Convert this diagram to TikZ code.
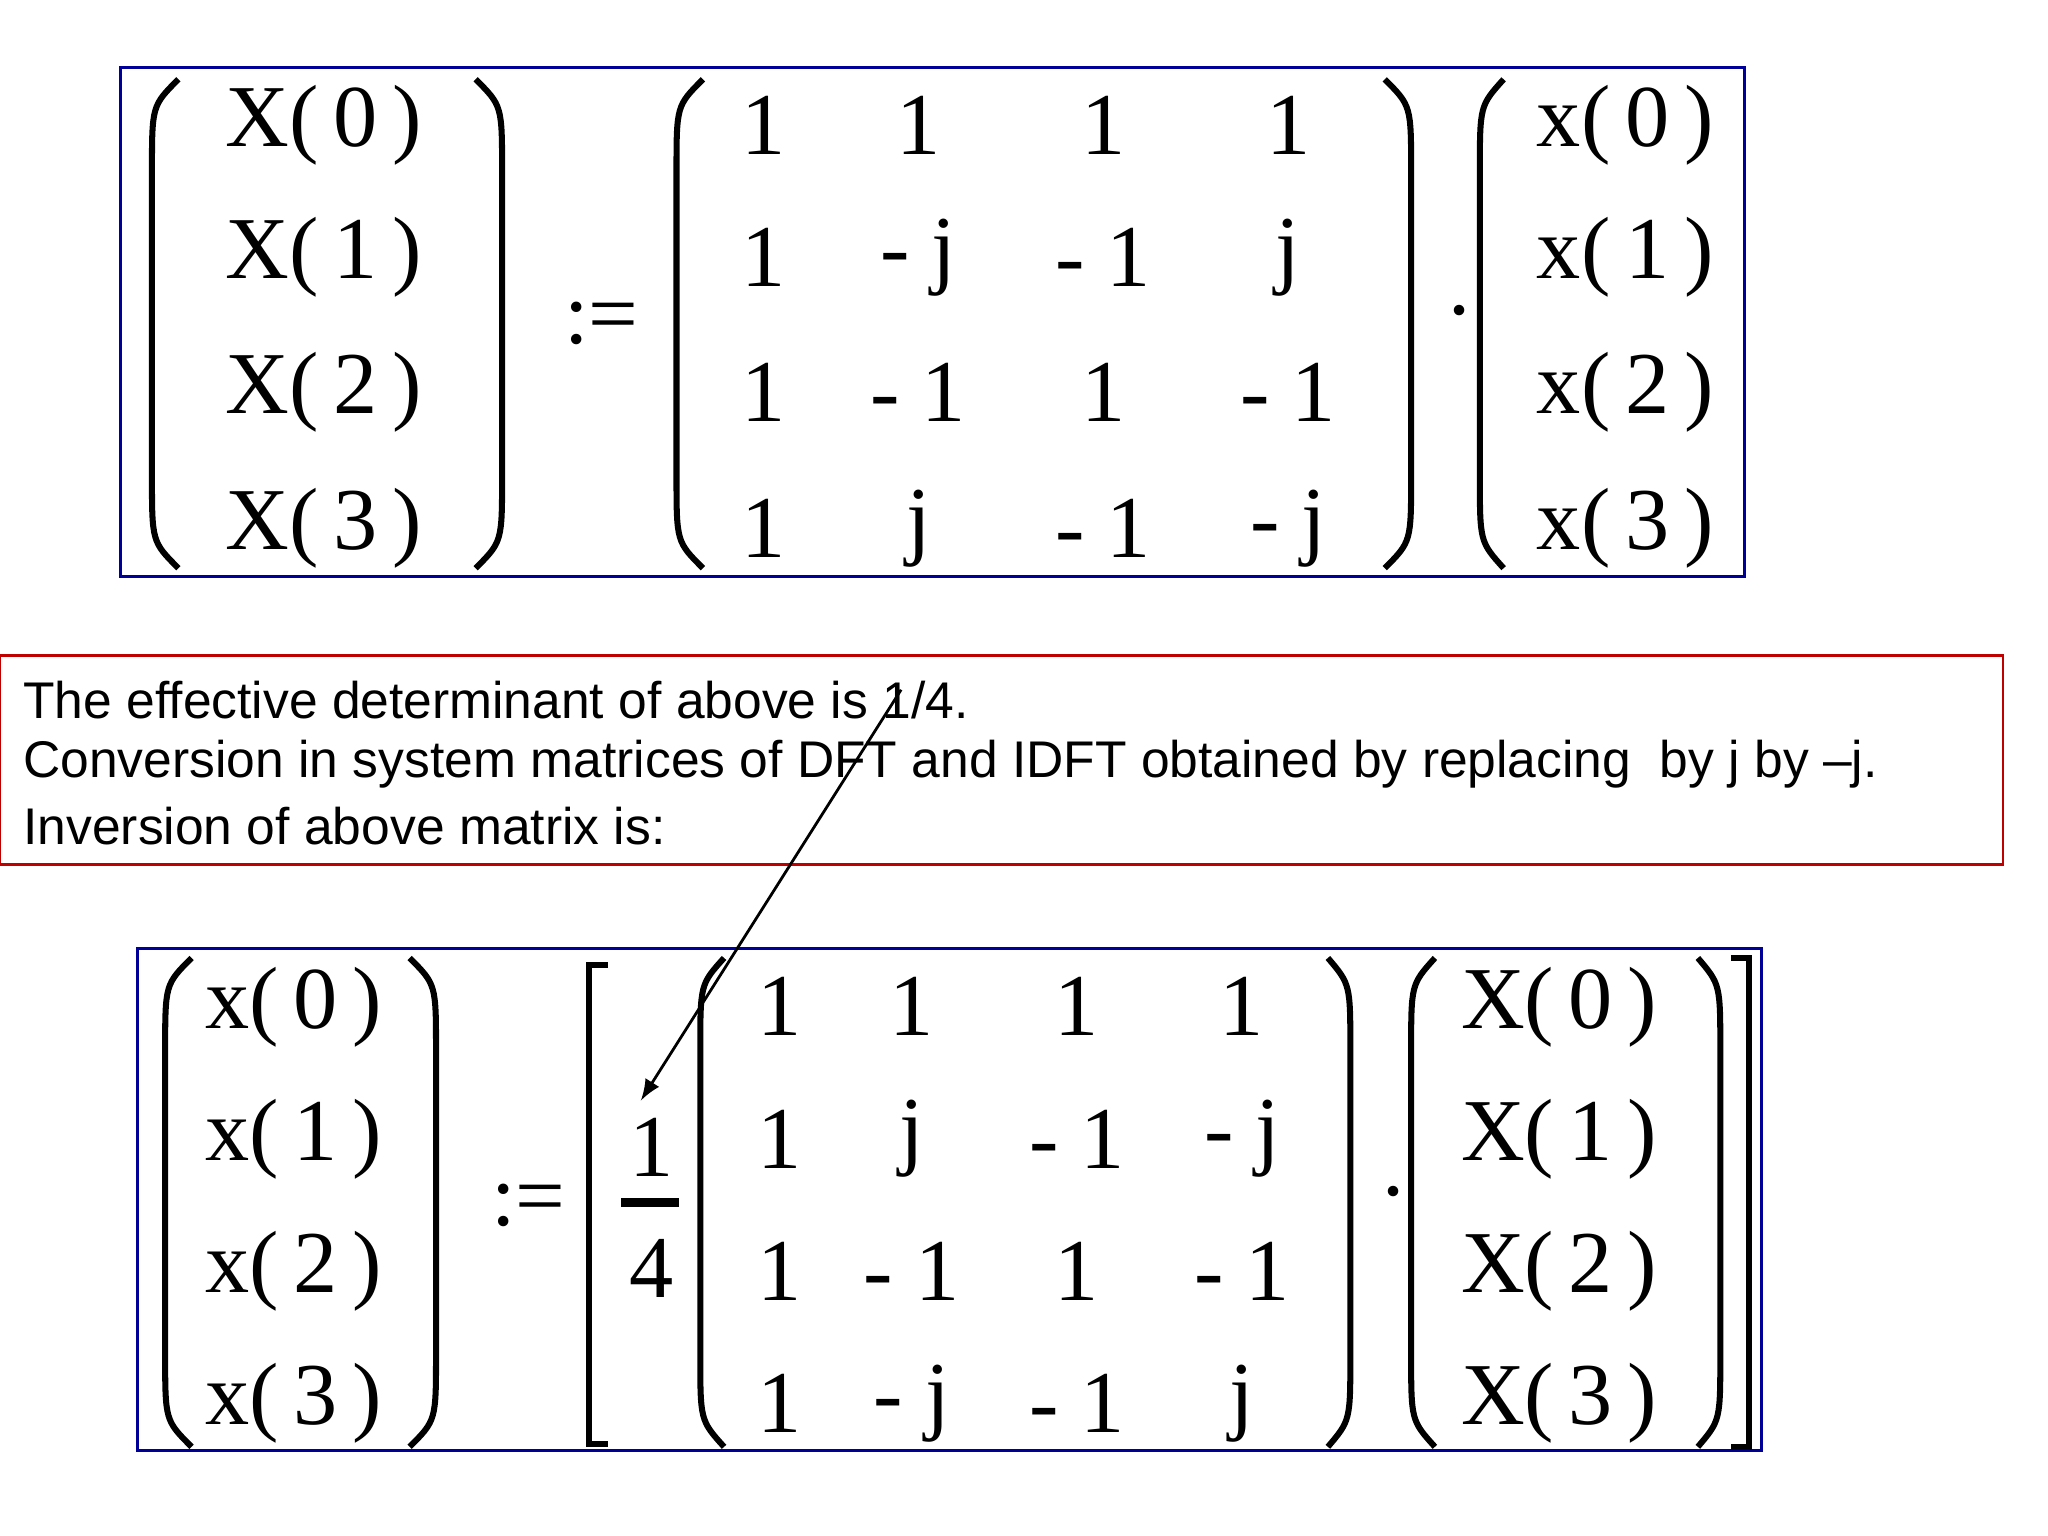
\documentclass[tikz,border=0pt]{standalone}
\usepackage{fontspec}
\setmainfont{Liberation Serif}
\newfontfamily\txtfont{Liberation Sans}
\newcommand\LPn[4]{\draw[brk] (#2,#3) .. controls (#1,{#3+20}) .. (#1,{#3+70}) -- (#1,{#4-70}) .. controls (#1,{#4-20}) .. (#2,#4);}
\newcommand\RPn[4]{\draw[brk] (#1,#3) .. controls (#2,{#3+20}) .. (#2,{#3+70}) -- (#2,{#4-70}) .. controls (#2,{#4-20}) .. (#1,#4);}
\begin{document}
\begin{tikzpicture}[x=0.01cm,y=-0.01cm,
  ent/.style={font=\fontsize{19}{19}\selectfont, inner sep=0pt, anchor=center},
  brk/.style={line width=1.3pt},
  txt/.style={font=\txtfont\fontsize{11.1}{13}\selectfont, anchor=west, inner sep=0pt}]
\useasboundingbox (0,0) rectangle (1550,1162);
% top box
\draw[blue!60!black, line width=0.6pt] (91,51) rectangle (1320,436);
\LPn{115}{135}{60}{430}\RPn{360}{380}{60}{430}
\foreach \i/\y in {0/95,1/195,2/297,3/400}{\node[ent] (X\i) at (245,\y) {X(\,\i\,)};}
\node[ent] (eq1) at (455,245) {:=};
\LPn{512}{532}{60}{430}\RPn{1048}{1068}{60}{430}
\node[ent] (a11) at (578,95) {1};\node[ent] (a12) at (695,95) {1};\node[ent] (a13) at (835,95) {1};\node[ent] (a14) at (975,95) {1};
\node[ent] (a21) at (578,195) {1};\node[ent] (a22) at (695,195) {- j};\node[ent] (a23) at (835,195) {- 1};\node[ent] (a24) at (975,195) {j};
\node[ent] (a31) at (578,297) {1};\node[ent] (a32) at (695,297) {- 1};\node[ent] (a33) at (835,297) {1};\node[ent] (a34) at (975,297) {- 1};
\node[ent] (a41) at (578,400) {1};\node[ent] (a42) at (695,400) {j};\node[ent] (a43) at (835,400) {- 1};\node[ent] (a44) at (975,400) {- j};
\node[ent] (dot1) at (1105,235) {.};
\LPn{1120}{1138}{60}{430}
\foreach \i/\y in {0/95,1/195,2/297,3/400}{\node[ent] (x\i) at (1230,\y) {x(\,\i\,)};}
% text box
\draw[red!75!black, line width=0.6pt] (0,496) rectangle (1516,654);
\node[txt] (t1) at (17,530) {The effective determinant of above is 1/4.};
\node[txt] (t2) at (17,578) {Conversion in system matrices of DFT and IDFT obtained by replacing\ \ by j by –j.};
\node[txt] (t3) at (17,625) {Inversion of above matrix is:};
% bottom box
\draw[blue!60!black, line width=0.6pt] (104,718) rectangle (1333,1098);
\LPn{125}{145}{725}{1095}\RPn{310}{330}{725}{1095}
\foreach \i/\y in {0/762,1/862,2/962,3/1062}{\node[ent] (y\i) at (222,\y) {x(\,\i\,)};}
\node[ent] (eq2) at (400,912) {:=};
\draw[brk] (460,730) -- (446,730) -- (446,1093) -- (460,1093);
\node[ent] (one) at (493,868) {1};
\draw[line width=2pt] (470,910) -- (514,910);
\node[ent] (four) at (493,960) {4};
\LPn{530}{548}{725}{1095}\RPn{1005}{1022}{725}{1095}
\node[ent] (b11) at (590,762) {1};\node[ent] (b12) at (690,762) {1};\node[ent] (b13) at (815,762) {1};\node[ent] (b14) at (940,762) {1};
\node[ent] (b21) at (590,862) {1};\node[ent] (b22) at (690,862) {j};\node[ent] (b23) at (815,862) {- 1};\node[ent] (b24) at (940,862) {- j};
\node[ent] (b31) at (590,962) {1};\node[ent] (b32) at (690,962) {- 1};\node[ent] (b33) at (815,962) {1};\node[ent] (b34) at (940,962) {- 1};
\node[ent] (b41) at (590,1062) {1};\node[ent] (b42) at (690,1062) {- j};\node[ent] (b43) at (815,1062) {- 1};\node[ent] (b44) at (940,1062) {j};
\node[ent] (dot2) at (1055,902) {.};
\LPn{1068}{1086}{725}{1095}\RPn{1285}{1302}{725}{1095}
\foreach \i/\y in {0/762,1/862,2/962,3/1062}{\node[ent] (Y\i) at (1180,\y) {X(\,\i\,)};}
\draw[brk] (1310,725) -- (1324,725) -- (1324,1095) -- (1310,1095);
% arrow
\coordinate (as) at (682,522);
\coordinate (ae) at (485,833);
\draw[-latex, line width=0.6pt] (as) -- (ae);
\end{tikzpicture}
\end{document}
